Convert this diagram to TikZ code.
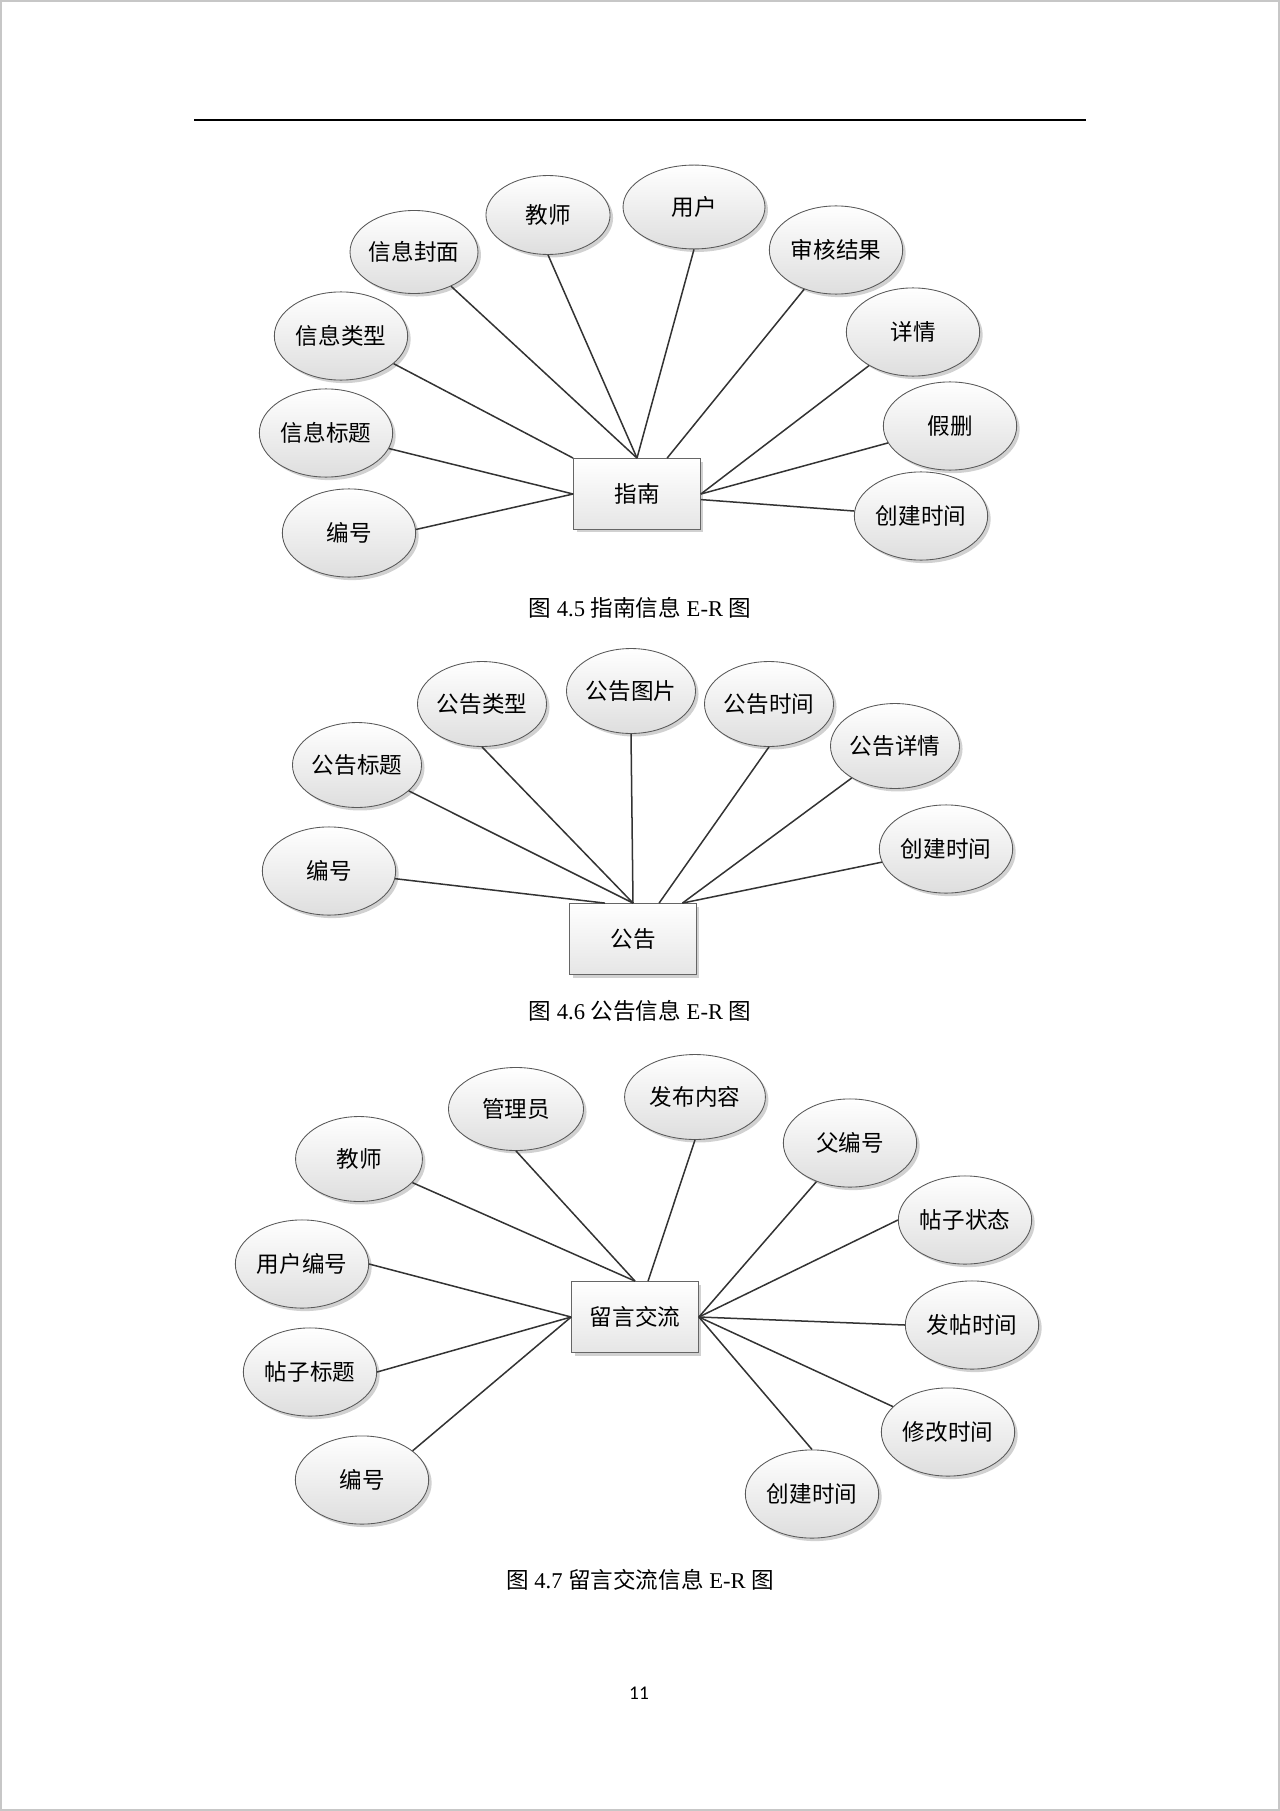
\documentclass[tikz,border=0pt]{standalone}
\usepackage{fontspec}
\setmainfont{Liberation Serif}
\newfontfamily\cjk{Noto Sans CJK SC}
\newfontfamily\pgnum{Carlito}
\usetikzlibrary{shapes.geometric}
\usetikzlibrary{shadows}
\newcommand{\erfont}{\cjk\fontsize{10.5}{12}\selectfont}
\newcommand{\capfont}{\fontsize{10.5}{12}\selectfont}

\begin{document}
\begin{tikzpicture}[x=0.465pt,y=-0.465pt]
\tikzstyle{attr}=[ellipse,draw=black!65,line width=0.4pt,top color=white,bottom color=black!13,
  drop shadow={shadow xshift=1.4pt,shadow yshift=-1.4pt,fill=black!40,opacity=0.45},
  minimum width=62pt,minimum height=41pt,inner sep=0pt,font=\erfont]
\tikzstyle{ent}=[rectangle,draw=black!60,line width=0.4pt,top color=white,bottom color=black!10,
  drop shadow={shadow xshift=1.4pt,shadow yshift=-1.4pt,fill=black!40,opacity=0.45},
  minimum width=59pt,minimum height=33pt,inner sep=0pt,font=\erfont]
\tikzstyle{erline}=[draw=black!80,line width=0.7pt]
\tikzstyle{caption}=[font=\capfont]
\useasboundingbox (0,0) rectangle (1280,1811);
\draw[black!22,line width=1pt] (1,1) rectangle (1279,1810);
\draw[line width=0.5pt] (194,120) -- (1086,120);

% figure 4.5
\node[ent] (zn) at (637,494) {指南};
\node[attr] (zn-bh) at (349,533) {编号};
\node[attr] (zn-bt) at (326,433) {信息标题};
\node[attr] (zn-lx) at (341,336) {信息类型};
\node[attr,minimum width=59.5pt,minimum height=38.6pt] (zn-fm) at (414,252) {信息封面};
\node[attr,minimum width=57.7pt,minimum height=36.7pt] (zn-js) at (548,215) {教师};
\node[attr,minimum width=66pt,minimum height=39pt] (zn-yh) at (694,207) {用户};
\node[attr] (zn-sh) at (836,250) {审核结果};
\node[attr] (zn-xq) at (913,332) {详情};
\node[attr] (zn-sc) at (950,426) {假删};
\node[attr] (zn-cj) at (921,516) {创建时间};
\foreach \a/\b in {zn.west/zn-bh.3,zn.west/zn-bt,zn.north west/zn-lx,zn.north/zn-fm,
  zn.north/zn-js.south,zn.north/zn-yh.south,zn.50/zn-sh,zn.east/zn-xq,zn.east/zn-sc,zn.-5/zn-cj}
  \draw[erline] (\a) -- (\b);
\node[caption] (cap1) at (640,608) {{\cjk 图} 4.5 {\cjk 指南信息} E-R {\cjk 图}};

% figure 4.6
\node[ent] (gg) at (633,939) {公告};
\node[attr] (gg-bh) at (329,871) {编号};
\node[attr,minimum width=60pt,minimum height=39.5pt] (gg-bt) at (357,765) {公告标题};
\node[attr,minimum width=60pt,minimum height=39.5pt] (gg-lx) at (482,704) {公告类型};
\node[attr,minimum width=60pt,minimum height=39.5pt] (gg-tp) at (631,691) {公告图片};
\node[attr,minimum width=60pt,minimum height=39.5pt] (gg-sj) at (769,704) {公告时间};
\node[attr,minimum width=60pt,minimum height=39.5pt] (gg-xq) at (895,746) {公告详情};
\node[attr] (gg-cj) at (946,849) {创建时间};
\foreach \a/\b in {gg.128/gg-bh,gg.north/gg-bt,gg.north/gg-lx.south,gg.north/gg-tp.south,
  gg.54/gg-sj.south,gg.36/gg-xq,gg.36/gg-cj}
  \draw[erline] (\a) -- (\b);
\node[caption] (cap2) at (640,1011) {{\cjk 图} 4.6 {\cjk 公告信息} E-R {\cjk 图}};

% figure 4.7
\node[ent] (ly) at (635,1317) {留言交流};
\node[attr,minimum width=59pt,minimum height=39.5pt] (ly-js) at (359,1159) {教师};
\node[attr,minimum width=62.8pt,minimum height=38.6pt] (ly-gl) at (516,1109) {管理员};
\node[attr,minimum width=65.5pt,minimum height=39.5pt] (ly-fb) at (695,1097) {发布内容};
\node[attr] (ly-fbh) at (850,1143) {父编号};
\node[attr] (ly-zt) at (965,1220) {帖子状态};
\node[attr] (ly-ft) at (972,1325) {发帖时间};
\node[attr] (ly-xg) at (948,1432) {修改时间};
\node[attr] (ly-cj) at (812,1494) {创建时间};
\node[attr] (ly-bh) at (362,1480) {编号};
\node[attr] (ly-bt) at (310,1372) {帖子标题};
\node[attr] (ly-yb) at (302,1264) {用户编号};
\foreach \a/\b in {ly.north/ly-js,ly.north/ly-gl.south,ly.70/ly-fb.south,ly.east/ly-fbh,
  ly.east/ly-zt.west,ly.east/ly-ft.west,ly.east/ly-xg,ly.east/ly-cj.north,
  ly.west/ly-bh.30,ly.west/ly-bt.east,ly.west/ly-yb.east}
  \draw[erline] (\a) -- (\b);
\node[caption] (cap3) at (640,1580) {{\cjk 图} 4.7 {\cjk 留言交流信息} E-R {\cjk 图}};

\node[font=\pgnum\fontsize{9}{10}\selectfont] (pg) at (639,1693) {11};
\end{tikzpicture}
\end{document}
